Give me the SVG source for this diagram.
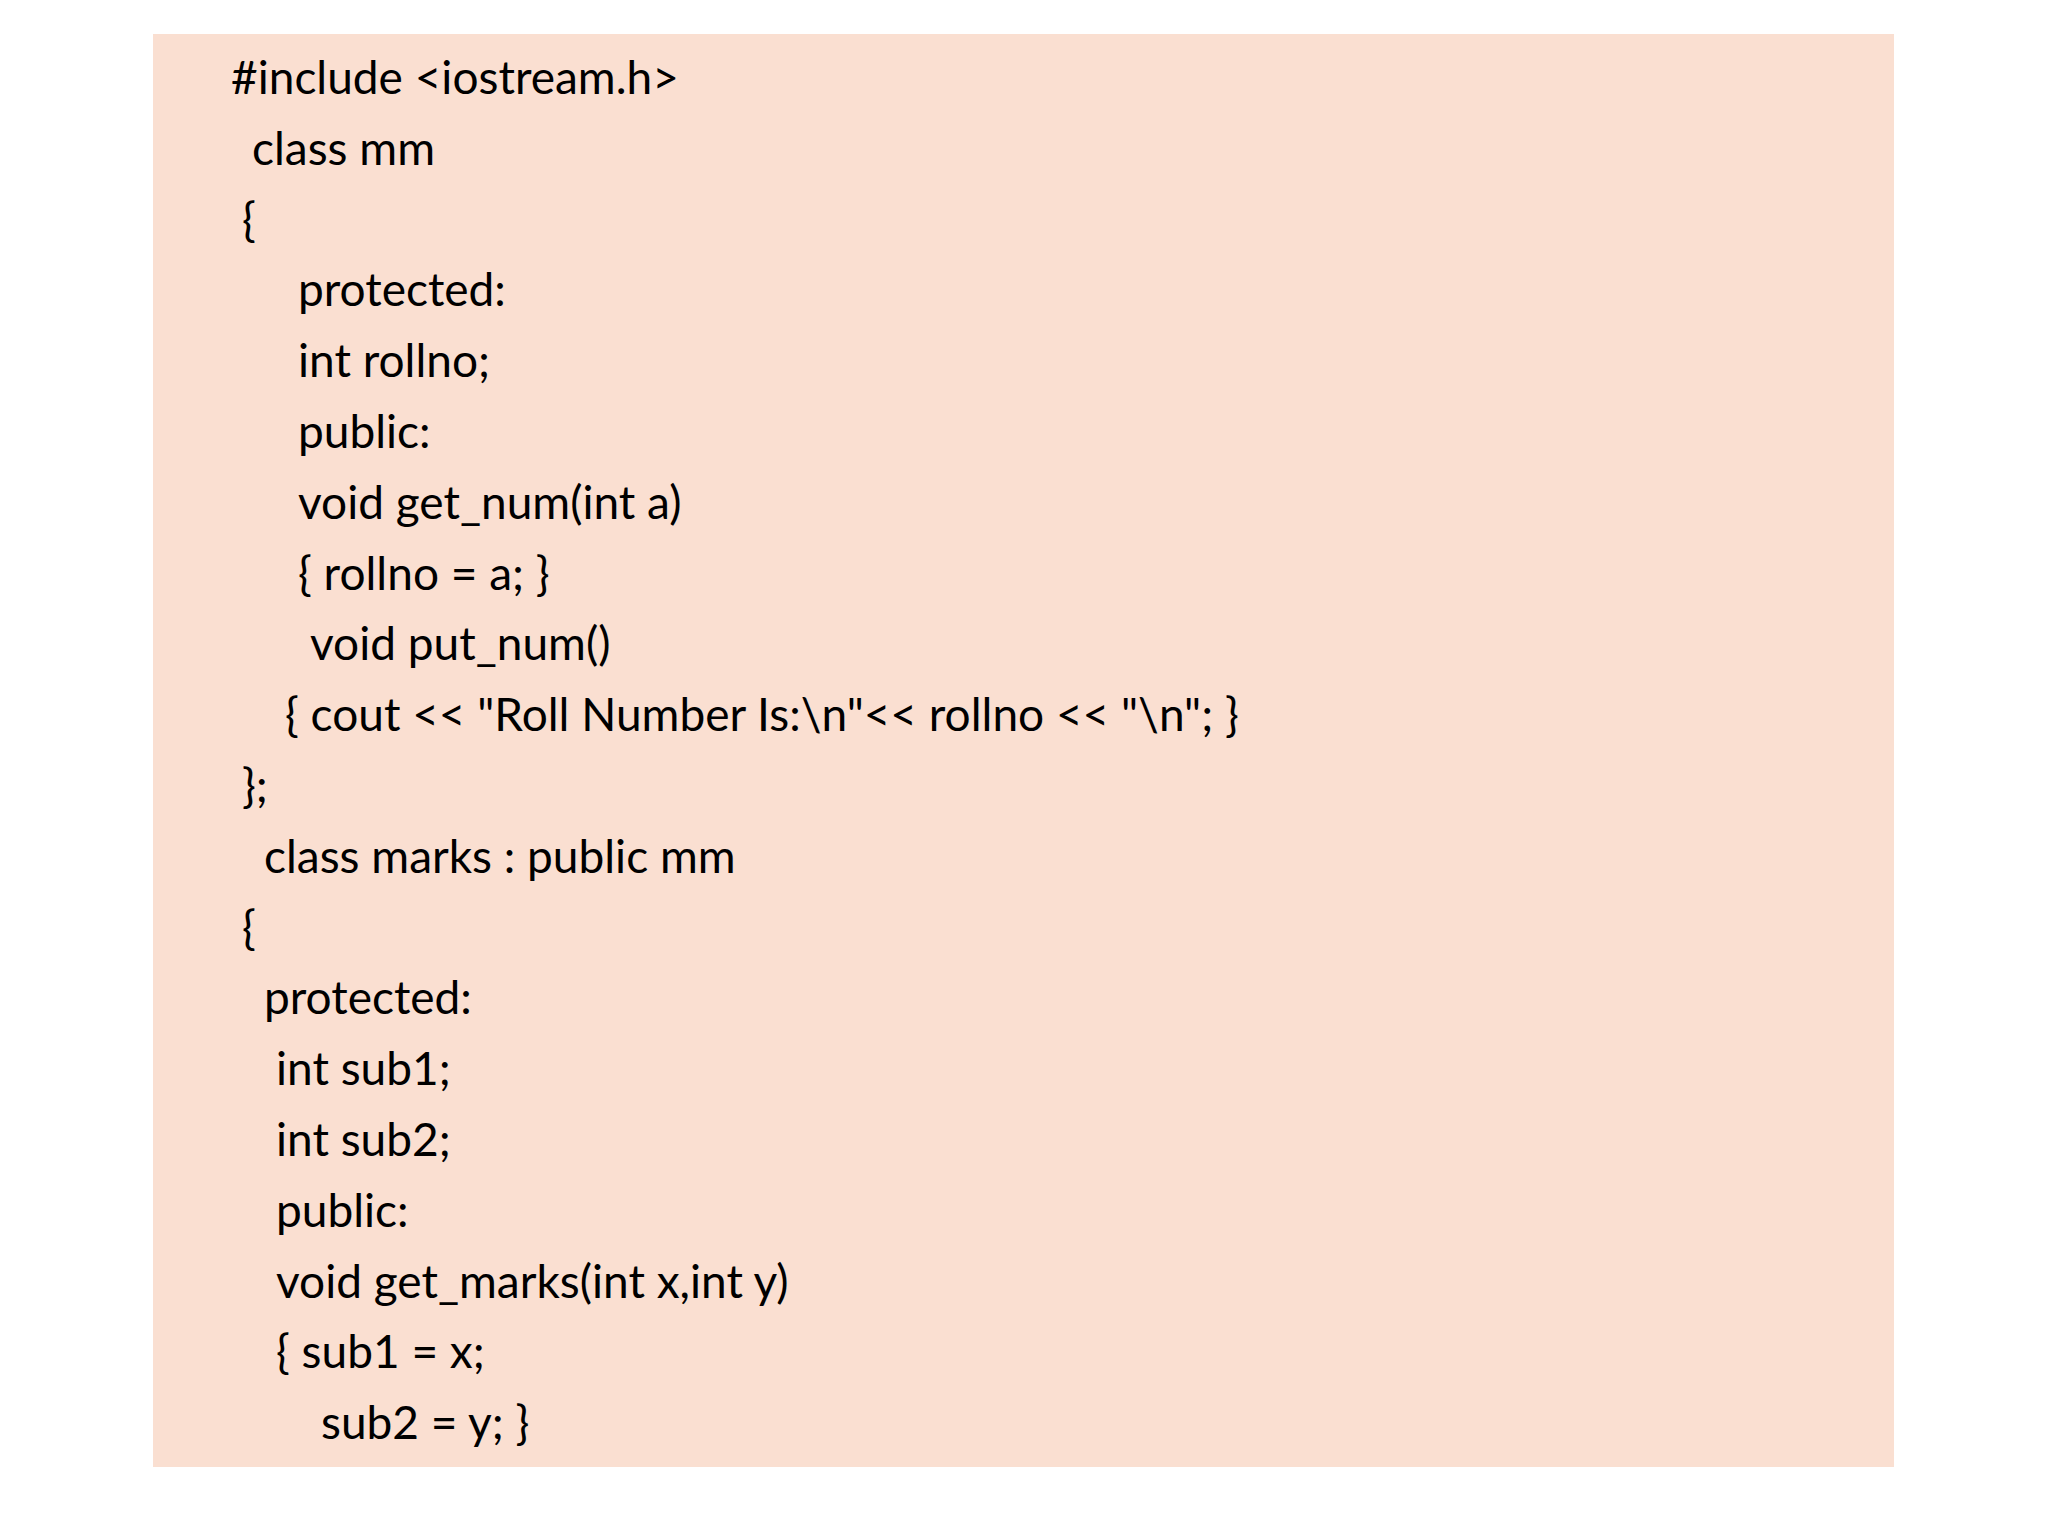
<svg xmlns="http://www.w3.org/2000/svg" width="2048" height="1536" viewBox="0 0 2048 1536">
<style>text{font-family:Lato,"Liberation Sans",sans-serif;font-size:46px;fill:#000}</style>
<rect width="2048" height="1536" fill="#fff"/>
<rect x="153" y="34" width="1741" height="1433" fill="#fadfd1"/>
<g id="code">
<text x="231" y="94">#include &lt;iostream.h&gt;</text>
<text x="252" y="165">class mm</text>
<text x="242" y="236">{</text>
<text x="298" y="306">protected:</text>
<text x="298" y="377">int rollno;</text>
<text x="298" y="448">public:</text>
<text x="298" y="519">void get_num(int a)</text>
<text x="298" y="590">{ rollno = a; }</text>
<text x="310" y="660">void put_num()</text>
<text x="285" y="731">{ cout &lt;&lt; "Roll Number Is:\n"&lt;&lt; rollno &lt;&lt; "\n"; }</text>
<text x="242" y="802">};</text>
<text x="264" y="873">class marks : public mm</text>
<text x="242" y="944">{</text>
<text x="264" y="1014">protected:</text>
<text x="276" y="1085">int sub1;</text>
<text x="276" y="1156">int sub2;</text>
<text x="276" y="1227">public:</text>
<text x="276" y="1298">void get_marks(int x,int y)</text>
<text x="276" y="1368">{ sub1 = x;</text>
<text x="321" y="1439">sub2 = y; }</text>
</g>
</svg>
